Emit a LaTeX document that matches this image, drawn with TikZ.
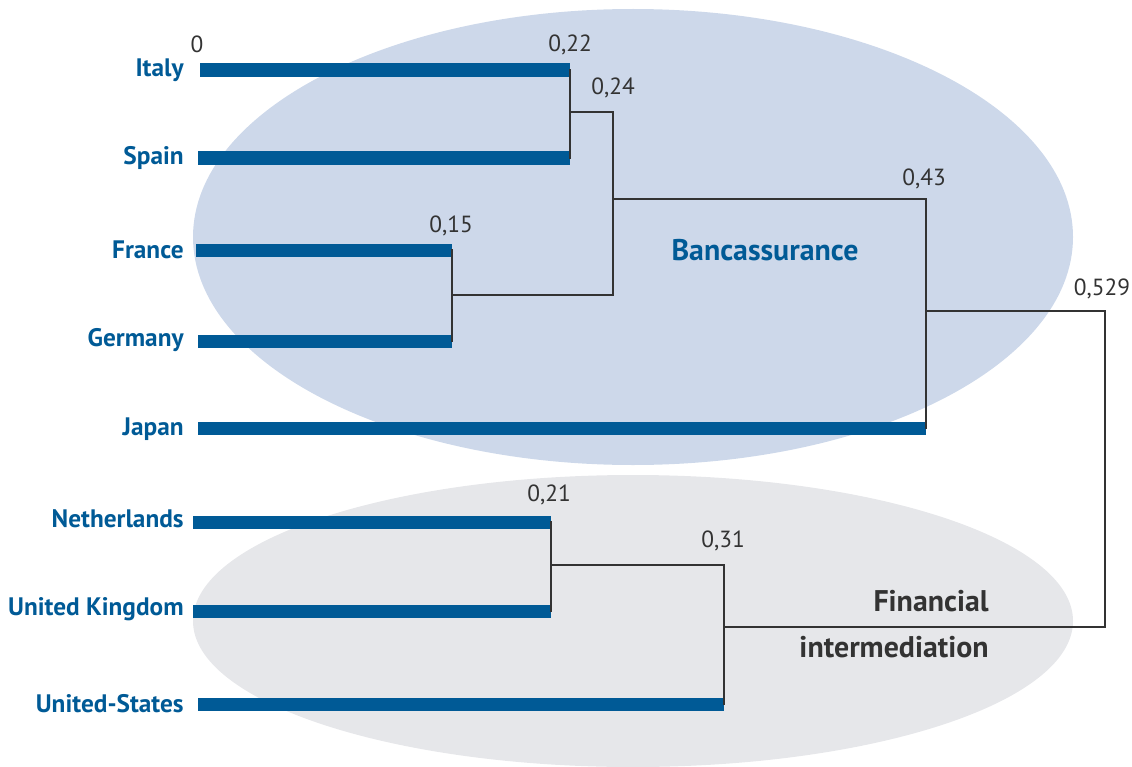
\documentclass[tikz,border=0pt]{standalone}
\usepackage{fontspec}
\setmainfont{PT Sans}
\usetikzlibrary{positioning,calc}

\definecolor{barblue}{HTML}{005A96}
\definecolor{linkgray}{HTML}{333333}
\definecolor{bancfill}{HTML}{CDD8EA}
\definecolor{finfill}{HTML}{E6E7EA}

\begin{document}
\begin{tikzpicture}[
    x=0.02cm, y=-0.02cm,
    bar/.style={draw=barblue, line width=7.4pt},
    link/.style={draw=linkgray, line width=1.1pt},
    country/.style={anchor=east, font=\bfseries\fontsize{14.4}{16}\selectfont, text=barblue, inner sep=0pt},
    dist/.style={anchor=south, font=\fontsize{13.3}{15}\selectfont, text=linkgray, inner sep=1pt},
    group/.style={font=\bfseries\fontsize{#1}{18}\selectfont, inner sep=0pt}
]
\useasboundingbox (0,0) rectangle (1132,767);

% background groups
\fill[bancfill] (633,237) ellipse [x radius=440, y radius=-228];
\fill[finfill] (633,621) ellipse [x radius=440, y radius=-146];

% leaves
\node[country] (italy)   at (184,70)  {Italy};
\node[country] (spain)   at (184,158) {Spain};
\node[country] (france)  at (184,250) {France};
\node[country] (germany) at (184,340) {Germany};
\node[country] (japan)   at (184,429) {Japan};
\node[country] (nl)      at (184,519) {Netherlands};
\node[country] (uk)      at (184,609) {United Kingdom};
\node[country] (us)      at (184,704) {United-States};

\coordinate (italyL) at (200,70);   \coordinate (italyR) at (570,70);
\coordinate (spainL) at (198,158);  \coordinate (spainR) at (570,158);
\coordinate (franceL) at (196,250); \coordinate (franceR) at (452,250);
\coordinate (germanyL) at (198,341);\coordinate (germanyR) at (452,341);
\coordinate (japanL) at (198,428);  \coordinate (japanR) at (926,428);
\coordinate (nlL) at (193,522);     \coordinate (nlR) at (551,522);
\coordinate (ukL) at (193,611);     \coordinate (ukR) at (551,611);
\coordinate (usL) at (198,704);     \coordinate (usR) at (724,704);

\foreach \c in {italy,spain,france,germany,japan,nl,uk,us}
    \draw[bar] (\c L) -- (\c R);

% joints
\coordinate (j22) at (570,112);
\coordinate (j15) at (452,295);
\coordinate (j24) at (613,199);
\coordinate (j43) at (926,311);
\coordinate (j21) at (551,565);
\coordinate (j31) at (724,627);

\draw[link] ([yshift=0.5pt]italyR) -- ([yshift=-0.5pt]spainR);
\draw[link] ([yshift=0.5pt]franceR) -- ([yshift=-0.5pt]germanyR);
\draw[link] (j22) -| (j24) |- (j15);
\draw[link] (j24) -| ([yshift=-0.5pt]japanR);
\draw[link] ([yshift=0.5pt]nlR) -- ([yshift=-0.5pt]ukR);
\draw[link] (j21) -| ([yshift=-0.5pt]usR);
\draw[link] (j43) -| (1105,627) -- (j31);

% distances
\node[dist] (d0)   at (197,55)  {0};
\node[dist] (d22)  at (570,57)  {0,22};
\node[dist] (d24)  at (613,100) {0,24};
\node[dist] (d15)  at (451,238) {0,15};
\node[dist] (d43)  at (924,191) {0,43};
\node[dist] (d529) at (1102,301) {0,529};
\node[dist] (d21)  at (549,507) {0,21};
\node[dist] (d31)  at (723,553) {0,31};

% group names
\node[group=17, text=barblue] (banc) at (765,250) {Bancassurance};
\node[group=17, text=linkgray, anchor=east] (fin1) at (989,601) {Financial};
\node[group=17, text=linkgray, anchor=east] (fin2) at (989,647) {intermediation};
\end{tikzpicture}
\end{document}
